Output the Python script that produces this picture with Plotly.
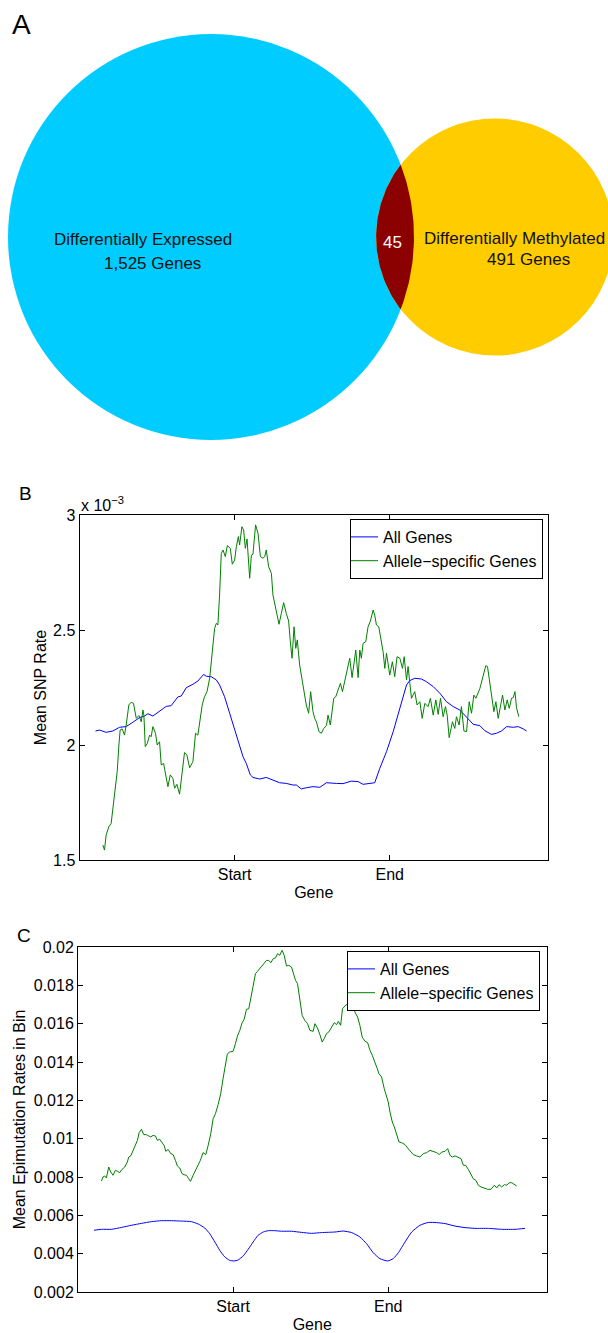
import numpy as np
import plotly.graph_objects as go

# ---------------- Panel A : Venn counts ----------------
venn_names = ["Differentially Expressed", "Differentially Methylated"]
venn_only = [1525, 491]
venn_overlap = 45

# ---------------- Panel B : mean SNP rate (x 10^-3) ----------------
b_all_x = [10.3, 12.9, 17.2, 21.5, 25.8, 30.1, 34.4, 38.7, 41.9, 44.1,
           47.3, 51.6, 55.9, 59.1, 63.4, 65.6, 68.8, 73.1, 76.3, 80.0,
           81.7, 84.9, 88.2, 90.3, 93.5, 96.8, 100.0, 103.2, 105.4, 107.5,
           110.1, 111.8, 116.1, 120.4, 124.7, 129.0, 133.3, 137.6, 139.8, 143.0,
           146.2, 150.5, 154.9, 159.2, 165.6, 169.9, 175.3, 179.6, 182.8, 187.1,
           190.3, 193.6, 197.9, 202.2, 206.5, 210.8, 212.9, 216.1, 220.4, 223.7,
           228.0, 232.3, 236.6, 240.9, 245.2, 249.5, 253.8, 258.1, 261.3, 265.6,
           268.8, 272.0, 275.3, 279.6, 282.8, 286.0, 288.2]
b_all_y = [2.061, 2.065, 2.055, 2.061, 2.077, 2.080, 2.099, 2.119, 2.126, 2.136,
           2.126, 2.148, 2.168, 2.171, 2.209, 2.213, 2.249, 2.264, 2.278, 2.307,
           2.299, 2.297, 2.283, 2.261, 2.210, 2.138, 2.065, 1.993, 1.949, 1.920,
           1.870, 1.859, 1.852, 1.859, 1.846, 1.836, 1.833, 1.826, 1.826, 1.809,
           1.814, 1.819, 1.816, 1.836, 1.833, 1.832, 1.843, 1.841, 1.829, 1.832,
           1.836, 1.899, 1.971, 2.058, 2.159, 2.261, 2.280, 2.290, 2.287, 2.275,
           2.254, 2.225, 2.188, 2.167, 2.152, 2.123, 2.090, 2.084, 2.062, 2.046,
           2.051, 2.061, 2.080, 2.077, 2.080, 2.070, 2.061]

b_ase_x = [15.1, 16.1, 17.2, 18.9, 20.4, 21.5, 22.6, 23.7, 24.3, 25.4,
           26.2, 27.5, 29.0, 30.1, 31.8, 33.3, 34.8, 36.6, 38.3, 39.8,
           40.9, 41.5, 42.4, 43.7, 45.2, 46.2, 47.3, 49.0, 50.1, 51.6,
           52.7, 54.2, 55.5, 57.0, 58.5, 60.2, 61.3, 62.8, 64.5, 66.2,
           67.7, 69.2, 71.0, 73.1, 74.8, 76.3, 77.8, 79.1, 80.6, 82.2,
           83.9, 85.6, 87.1, 88.2, 89.2, 90.3, 91.4, 92.5, 94.0, 95.3,
           97.2, 98.5, 100.0, 101.1, 102.4, 103.2, 104.7, 105.8, 106.9, 108.0,
           109.7, 110.8, 111.8, 113.5, 115.1, 116.6, 118.3, 119.4, 120.4, 121.9,
           123.7, 124.7, 126.9, 128.6, 130.1, 131.6, 133.3, 134.8, 135.9, 137.0,
           138.3, 139.4, 140.4, 141.9, 143.7, 145.2, 146.2, 147.7, 149.0, 150.5,
           151.6, 152.7, 154.4, 155.9, 157.4, 159.2, 160.2, 161.7, 163.0, 163.9,
           165.2, 166.7, 168.2, 169.5, 170.5, 172.1, 173.1, 174.2, 175.7, 178.1,
           179.6, 180.7, 181.7, 182.8, 184.5, 186.0, 187.5, 189.3, 190.3, 191.4,
           192.9, 194.0, 195.7, 196.8, 197.9, 200.0, 201.7, 203.2, 204.7, 206.5,
           208.2, 209.3, 210.8, 211.8, 212.9, 214.0, 216.1, 217.6, 219.4, 220.9,
           222.6, 224.7, 226.2, 228.0, 229.7, 231.2, 232.7, 234.4, 235.9, 237.0,
           238.3, 240.4, 241.9, 243.0, 244.7, 246.2, 247.8, 249.5, 251.2, 252.7,
           254.2, 255.5, 258.1, 260.2, 261.9, 263.0, 264.5, 265.6, 267.1, 268.4,
           269.9, 272.7, 274.2, 275.7, 277.0, 278.5, 279.6, 280.7, 281.7, 283.2]
b_ase_y = [1.565, 1.543, 1.609, 1.645, 1.659, 1.725, 1.797, 1.877, 1.884, 2.000,
           2.065, 2.070, 2.043, 2.087, 2.174, 2.186, 2.181, 2.116, 2.128, 2.101,
           2.152, 2.130, 1.993, 2.007, 2.043, 2.036, 2.080, 2.051, 2.000, 2.014,
           1.913, 1.920, 1.870, 1.819, 1.870, 1.855, 1.812, 1.829, 1.786, 1.884,
           1.967, 1.957, 1.901, 1.928, 2.051, 2.043, 2.123, 2.174, 2.210, 2.232,
           2.290, 2.420, 2.507, 2.529, 2.522, 2.652, 2.833, 2.848, 2.819, 2.867,
           2.855, 2.786, 2.804, 2.862, 2.906, 2.870, 2.949, 2.935, 2.855, 2.896,
           2.725, 2.826, 2.829, 2.957, 2.920, 2.819, 2.812, 2.819, 2.848, 2.775,
           2.746, 2.652, 2.580, 2.525, 2.572, 2.619, 2.572, 2.539, 2.449, 2.377,
           2.514, 2.420, 2.457, 2.348, 2.275, 2.210, 2.174, 2.138, 2.232, 2.145,
           2.116, 2.101, 2.058, 2.051, 2.072, 2.084, 2.130, 2.087, 2.145, 2.203,
           2.210, 2.239, 2.268, 2.232, 2.261, 2.319, 2.336, 2.377, 2.293, 2.413,
           2.293, 2.413, 2.377, 2.442, 2.449, 2.514, 2.539, 2.587, 2.565, 2.522,
           2.514, 2.464, 2.406, 2.333, 2.399, 2.304, 2.362, 2.297, 2.384, 2.377,
           2.333, 2.384, 2.283, 2.341, 2.268, 2.203, 2.232, 2.174, 2.188, 2.116,
           2.181, 2.167, 2.203, 2.130, 2.196, 2.133, 2.203, 2.123, 2.167, 2.130,
           2.032, 2.101, 2.072, 2.123, 2.087, 2.167, 2.061, 2.058, 2.188, 2.138,
           2.217, 2.203, 2.246, 2.297, 2.345, 2.341, 2.261, 2.203, 2.145, 2.188,
           2.116, 2.217, 2.152, 2.196, 2.159, 2.203, 2.206, 2.232, 2.162, 2.123]

# ---------------- Panel C : mean epimutation rate (x 10^-3) ----------------
c_all_x = [10.3, 15.1, 21.5, 28.0, 34.4, 40.9, 47.3, 53.8, 60.2, 66.7,
           73.1, 77.4, 81.7, 84.9, 88.2, 91.4, 94.6, 97.8, 100.6, 103.2,
           106.5, 109.7, 112.9, 116.1, 119.4, 122.6, 126.9, 131.2, 137.6, 144.1,
           150.5, 157.0, 165.6, 171.0, 176.4, 181.7, 186.0, 190.3, 194.6, 199.6,
           203.2, 206.5, 210.8, 215.1, 220.4, 225.8, 231.2, 236.6, 243.0, 249.5,
           255.9, 264.5, 273.1, 281.7, 288.2]
c_all_y = [5.22, 5.27, 5.27, 5.37, 5.48, 5.58, 5.67, 5.72, 5.72, 5.70,
           5.67, 5.55, 5.34, 5.04, 4.61, 4.17, 3.83, 3.65, 3.62, 3.67,
           3.88, 4.23, 4.61, 4.96, 5.13, 5.20, 5.20, 5.17, 5.17, 5.11,
           5.06, 5.10, 5.13, 5.18, 5.10, 4.87, 4.52, 4.05, 3.74, 3.62,
           3.74, 4.05, 4.61, 5.13, 5.48, 5.63, 5.62, 5.57, 5.44, 5.36,
           5.32, 5.32, 5.27, 5.27, 5.32]

c_ase_x = [15.1, 16.1, 17.2, 18.3, 19.8, 21.1, 22.6, 24.1, 25.4, 26.9,
           28.4, 30.1, 31.8, 32.7, 34.0, 35.5, 37.0, 38.3, 39.4, 40.9,
           42.4, 44.1, 45.6, 46.9, 48.4, 49.9, 51.2, 52.7, 54.2, 55.5,
           56.6, 58.1, 59.8, 61.3, 62.8, 64.1, 65.6, 67.1, 68.4, 69.9,
           71.4, 72.5, 74.2, 75.7, 77.4, 78.9, 80.6, 82.4, 83.9, 85.6,
           87.1, 88.6, 90.3, 92.0, 93.5, 95.1, 96.3, 97.8, 100.0, 101.5,
           102.8, 104.3, 105.8, 107.1, 108.6, 110.1, 111.4, 112.9, 114.4, 115.7,
           117.2, 118.7, 120.0, 121.5, 123.0, 124.3, 125.8, 127.3, 128.6, 130.1,
           131.6, 132.9, 134.4, 135.9, 137.6, 138.7, 140.2, 141.5, 143.0, 144.5,
           146.2, 148.0, 149.5, 151.6, 152.7, 154.4, 155.9, 157.4, 158.7, 160.2,
           161.7, 163.5, 165.2, 166.7, 167.8, 169.3, 170.5, 172.1, 173.8, 175.3,
           176.8, 178.5, 180.2, 181.7, 183.2, 185.0, 186.7, 188.2, 189.7, 191.4,
           192.9, 194.0, 195.7, 197.4, 198.9, 200.0, 201.1, 202.6, 203.9, 205.4,
           206.9, 208.6, 210.8, 212.5, 214.0, 216.1, 218.3, 220.4, 222.6, 224.7,
           226.9, 229.0, 231.2, 232.9, 234.4, 236.6, 238.3, 239.8, 241.3, 243.0,
           245.2, 246.9, 248.4, 249.9, 251.6, 253.3, 254.8, 256.4, 258.1, 259.8,
           261.9, 264.1, 266.2, 268.4, 269.9, 271.4, 273.1, 274.9, 276.4, 277.9,
           279.6, 281.3, 282.8]
c_ase_y = [7.79, 8.00, 8.05, 7.95, 8.52, 8.26, 8.09, 8.35, 8.30, 8.23,
           8.40, 8.52, 8.78, 9.04, 9.10, 9.39, 9.65, 9.91, 10.31, 10.49,
           10.21, 10.21, 10.14, 10.09, 10.17, 10.14, 9.91, 9.97, 9.79, 9.65,
           9.34, 9.44, 9.22, 9.17, 8.87, 8.57, 8.47, 8.17, 8.12, 8.09,
           7.91, 7.77, 8.09, 8.35, 8.57, 8.87, 9.27, 9.17, 9.65, 10.26,
           11.04, 11.30, 11.77, 12.35, 13.13, 13.83, 14.43, 14.52, 14.56, 14.96,
           15.36, 15.65, 16.05, 16.23, 16.75, 16.78, 17.30, 18.00, 18.61, 18.73,
           18.87, 19.01, 19.13, 19.30, 19.30, 19.18, 19.39, 19.43, 19.65, 19.57,
           19.83, 19.57, 19.01, 19.04, 18.96, 18.66, 18.26, 18.09, 17.22, 16.43,
           16.17, 16.00, 15.65, 15.60, 16.00, 15.77, 15.43, 15.04, 15.22, 15.48,
           15.57, 15.83, 16.05, 15.95, 16.12, 15.91, 16.78, 16.92, 17.04, 17.30,
           16.96, 16.61, 16.35, 15.91, 15.30, 15.08, 15.01, 14.61, 14.35, 14.03,
           13.65, 13.39, 13.22, 12.61, 12.17, 11.91, 11.39, 10.87, 10.61, 10.26,
           9.83, 9.79, 9.69, 9.51, 9.39, 9.17, 9.10, 9.04, 9.22, 9.27,
           9.39, 9.34, 9.27, 9.17, 9.30, 9.34, 9.48, 9.13, 9.04, 9.10,
           9.04, 8.96, 8.61, 8.61, 8.40, 8.12, 7.91, 7.83, 7.57, 7.48,
           7.43, 7.36, 7.36, 7.57, 7.43, 7.60, 7.48, 7.60, 7.57, 7.70,
           7.70, 7.60, 7.53]

gene_tickvals = [100, 200]
gene_ticktext = ["Start", "End"]
b_ticks = [1.5, 2.0, 2.5, 3.0]
b_ticktext = ["1.5", "2", "2.5", "3"]
c_ticks = [0.002, 0.004, 0.006, 0.008, 0.010, 0.012, 0.014, 0.016, 0.018, 0.020]
c_ticktext = ["0.002", "0.004", "0.006", "0.008", "0.01", "0.012", "0.014", "0.016", "0.018", "0.02"]
series_names = ["All Genes", "Allele\u2212specific Genes"]

for xs, ys in [(b_all_x, b_all_y), (b_ase_x, b_ase_y), (c_all_x, c_all_y), (c_ase_x, c_ase_y)]:
    assert len(xs) == len(ys), (len(xs), len(ys))

# ---------------- layout constants ----------------
W, H = 608, 1333
FONT = "Liberation Sans, Arial, Helvetica, sans-serif"
BLUE = "#0000FF"
GREEN = "#008000"
CYAN = "#00CCFF"
YELLOW = "#FFCC00"
DARKRED = "#8B0000"


def px_x(p):
    return p / W


def px_y(p):
    return 1 - p / H


fig = go.Figure()

# ---------------- Panel B traces ----------------
fig.add_trace(go.Scatter(x=b_all_x, y=b_all_y, mode="lines", name=series_names[0],
                         line=dict(color=BLUE, width=1), xaxis="x", yaxis="y", legend="legend"))
fig.add_trace(go.Scatter(x=b_ase_x, y=b_ase_y, mode="lines", name=series_names[1],
                         line=dict(color=GREEN, width=1), xaxis="x", yaxis="y", legend="legend"))

# ---------------- Panel C traces ----------------
fig.add_trace(go.Scatter(x=c_all_x, y=[v * 1e-3 for v in c_all_y], mode="lines", name=series_names[0],
                         line=dict(color=BLUE, width=1, shape="spline", smoothing=0.5),
                         xaxis="x2", yaxis="y2", legend="legend2"))
fig.add_trace(go.Scatter(x=c_ase_x, y=[v * 1e-3 for v in c_ase_y], mode="lines", name=series_names[1],
                         line=dict(color=GREEN, width=1), xaxis="x2", yaxis="y2", legend="legend2"))

# ---------------- Panel A : proportional Venn ----------------
set1 = venn_only[0] + venn_overlap
set2 = venn_only[1] + venn_overlap
r1 = 203.0
r2 = r1 * np.sqrt(set2 / set1)
target = venn_overlap / set1 * np.pi * r1 ** 2


def lens_area(d):
    a1 = np.arccos((d * d + r1 * r1 - r2 * r2) / (2 * d * r1))
    a2 = np.arccos((d * d + r2 * r2 - r1 * r1) / (2 * d * r2))
    return r1 * r1 * (a1 - np.sin(2 * a1) / 2) + r2 * r2 * (a2 - np.sin(2 * a2) / 2)


lo, hi = r1 - r2 + 1e-6, r1 + r2 - 1e-6
for _ in range(100):
    mid = (lo + hi) / 2
    if lens_area(mid) > target:
        lo = mid
    else:
        hi = mid
d = (lo + hi) / 2
cx1, cy = 211.0, 237.0
cx2 = cx1 + d

fig.add_shape(type="circle", xref="x3", yref="y3", x0=cx1 - r1, x1=cx1 + r1, y0=cy - r1, y1=cy + r1,
              fillcolor=CYAN, line=dict(width=0), layer="below")
fig.add_shape(type="circle", xref="x3", yref="y3", x0=cx2 - r2, x1=cx2 + r2, y0=cy - r2, y1=cy + r2,
              fillcolor=YELLOW, line=dict(width=0), layer="below")

xi = (d * d + r1 * r1 - r2 * r2) / (2 * d)
h = np.sqrt(r1 * r1 - xi * xi)
t1 = np.arctan2(h, xi)
t2 = np.arctan2(h, d - xi)
ang1 = np.linspace(-t1, t1, 60)
ang2 = np.linspace(np.pi - t2, np.pi + t2, 60)
lx = np.concatenate([cx1 + r1 * np.cos(ang1), cx2 + r2 * np.cos(ang2)])
ly = np.concatenate([cy + r1 * np.sin(ang1), cy + r2 * np.sin(ang2)])
fig.add_trace(go.Scatter(x=lx, y=ly, mode="lines", fill="toself", fillcolor=DARKRED,
                         line=dict(width=0, color=DARKRED), hoverinfo="skip", showlegend=False,
                         xaxis="x3", yaxis="y3"))
lens_mid_x = (cx2 - r2 + cx1 + r1) / 2

venn_font = dict(family=FONT, size=17, color="#111111")
C = dict(xanchor="center", yanchor="middle", showarrow=False)
annotations = [
    dict(x=143, y=239, xref="x3", yref="y3", text=venn_names[0], font=venn_font, **C),
    dict(x=152, y=263, xref="x3", yref="y3", text=f"{venn_only[0]:,} Genes", font=venn_font, **C),
    dict(x=514, y=238, xref="x3", yref="y3", text=venn_names[1], font=venn_font, **C),
    dict(x=528, y=259, xref="x3", yref="y3", text=f"{venn_only[1]:,} Genes", font=venn_font, **C),
    dict(x=lens_mid_x - 3, y=242, xref="x3", yref="y3", text=str(venn_overlap),
         font=dict(family=FONT, size=17, color="white"), **C),
    # panel letters
    dict(x=px_x(21), y=px_y(25), xref="paper", yref="paper", text="A",
         font=dict(family=FONT, size=28, color="black"), **C),
    dict(x=px_x(25), y=px_y(493), xref="paper", yref="paper", text="B",
         font=dict(family=FONT, size=19, color="black"), **C),
    dict(x=px_x(24), y=px_y(935), xref="paper", yref="paper", text="C",
         font=dict(family=FONT, size=19, color="black"), **C),
    # exponent label of panel B
    dict(x=px_x(79), y=px_y(516), xref="paper", yref="paper", xanchor="left", yanchor="bottom",
         text="x 10<sup>\u22123</sup>", showarrow=False, font=dict(family=FONT, size=16, color="black")),
]

tickfont = dict(family=FONT, size=16, color="black")
axis_common = dict(showline=True, linecolor="black", linewidth=1, mirror="ticks", ticks="inside",
                   ticklen=5, tickwidth=1, tickcolor="black", showgrid=False, zeroline=False,
                   automargin=False, tickfont=tickfont)
legend_common = dict(xanchor="right", yanchor="top", bgcolor="white", bordercolor="black",
                     borderwidth=1, font=tickfont, tracegroupgap=0, itemwidth=30, indentation=-8)

fig.update_layout(
    width=W, height=H, template="none",
    margin=dict(l=0, r=0, t=0, b=0),
    paper_bgcolor="white", plot_bgcolor="white",
    font=dict(family=FONT, size=16, color="black"),
    xaxis=dict(domain=[px_x(79.5), px_x(548)], range=[0, 302], tickvals=gene_tickvals,
               ticktext=gene_ticktext, title=dict(text="Gene", font=tickfont, standoff=4), anchor="y",
               **axis_common),
    yaxis=dict(domain=[px_y(860), px_y(515)], range=[1.5, 3.0], tickvals=b_ticks, ticktext=b_ticktext,
               title=dict(text="Mean SNP Rate", font=tickfont, standoff=2), anchor="x", **axis_common),
    xaxis2=dict(domain=[px_x(78), px_x(546.5)], range=[0, 302], tickvals=gene_tickvals,
                ticktext=gene_ticktext, title=dict(text="Gene", font=tickfont, standoff=4), anchor="y2",
                **axis_common),
    yaxis2=dict(domain=[px_y(1292), px_y(947)], range=[0.002, 0.02], tickvals=c_ticks, ticktext=c_ticktext,
                title=dict(text="Mean Epimutation Rates in Bin", font=tickfont, standoff=4), anchor="x2",
                **axis_common),
    xaxis3=dict(domain=[0, 1], range=[0, W], visible=False, anchor="y3", fixedrange=True),
    yaxis3=dict(domain=[px_y(450), 1], range=[450, 0], visible=False, anchor="x3", fixedrange=True),
    legend=dict(x=px_x(543), y=px_y(519), **legend_common),
    legend2=dict(x=px_x(540), y=px_y(951), **legend_common),
    annotations=annotations,
    showlegend=True,
)

fig.write_html("out.html", config={"displayModeBar": False},
               post_script="document.body.style.margin='0';document.body.style.overflow='hidden';")
